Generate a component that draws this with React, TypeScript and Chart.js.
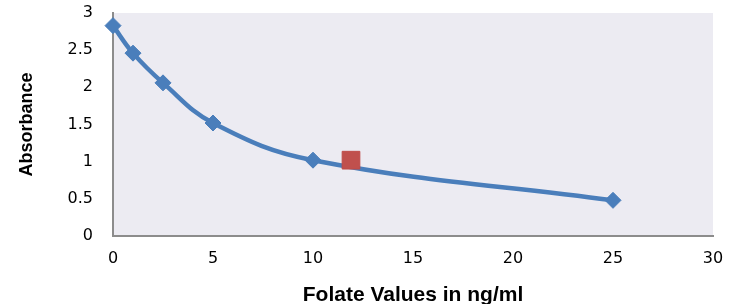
import React, { useEffect, useRef } from "react";
import { Chart, registerables } from "chart.js";

Chart.register(...registerables);

const folateX = [0, 1, 2.5, 5, 10, 25];
const absorbance = [2.83, 2.46, 2.06, 1.52, 1.02, 0.48];
const sampleX = [11.9];
const sampleY = [1.02];
const xTitle = "Folate Values in ng/ml";
const yTitle = "Absorbance";

const plotBg = {
  id: "plotBg",
  beforeDraw(chart: any) {
    const { ctx, chartArea } = chart;
    if (!chartArea) return;
    ctx.save();
    ctx.fillStyle = "#ecebf2";
    ctx.fillRect(chartArea.left, chartArea.top, chartArea.right - chartArea.left, chartArea.bottom - chartArea.top);
    ctx.restore();
  },
};

export default function App() {
  const ref = useRef<HTMLCanvasElement>(null);
  useEffect(() => {
    if (!ref.current) return;
    const chart = new Chart(ref.current, {
      type: "scatter",
      data: {
        datasets: [
          {
            label: "Standards",
            data: folateX.map((x, i) => ({ x, y: absorbance[i] })),
            showLine: true,
            tension: 0.4,
            borderColor: "#4a7ebb",
            backgroundColor: "#4a7ebb",
            borderWidth: 4.5,
            pointStyle: "rectRot",
            pointRadius: 8,
            pointBorderWidth: 1,
            clip: false,
            order: 2,
          },
          {
            label: "Sample",
            data: sampleX.map((x, i) => ({ x, y: sampleY[i] })),
            backgroundColor: "#c0504d",
            borderColor: "#be4b48",
            pointStyle: "rect",
            pointRadius: 12.5,
            pointBorderWidth: 1,
            clip: false,
            order: 1,
          },
        ],
      },
      options: {
        animation: false,
        responsive: false,
        maintainAspectRatio: false,
        layout: { autoPadding: false, padding: { top: 13, right: 26, left: 12, bottom: -4 } },
        plugins: { legend: { display: false }, tooltip: { enabled: false }, title: { display: false } },
        scales: {
          x: {
            type: "linear",
            min: 0,
            max: 30,
            ticks: { stepSize: 5, color: "#000", padding: 13, font: { family: "DejaVu Sans", size: 16 } },
            grid: { display: false, drawTicks: false },
            border: { color: "#8c8c8c", width: 2 },
            title: { display: true, text: xTitle, color: "#000", font: { family: "Liberation Sans", size: 21, weight: "bold" }, padding: { top: 14, bottom: 0 } },
            afterFit: (s: any) => { s.height = 72; s.paddingLeft = 0; s.paddingRight = 0; },
          },
          y: {
            type: "linear",
            min: 0,
            max: 3,
            ticks: {
              stepSize: 0.5,
              color: "#000",
              padding: 20,
              font: { family: "DejaVu Sans", size: 16 },
              callback: (v: any) => String(Number(v)),
            },
            grid: { display: false, drawTicks: false },
            border: { color: "#8c8c8c", width: 2 },
            title: { display: true, text: yTitle, color: "#000", font: { family: "Liberation Sans", size: 18, weight: "bold" }, padding: { top: 4, bottom: 0 } },
            afterFit: (s: any) => { s.width = 101; s.paddingTop = 0; s.paddingBottom = 0; },
          },
        },
      },
      plugins: [plotBg],
    });
    return () => chart.destroy();
  }, []);
  return (
    <div style={{ position: "fixed", left: 0, top: 0, width: 739, height: 304, background: "#fff", overflow: "hidden" }}>
      <canvas ref={ref} width={739} height={304} style={{ display: "block" }} />
    </div>
  );
}
